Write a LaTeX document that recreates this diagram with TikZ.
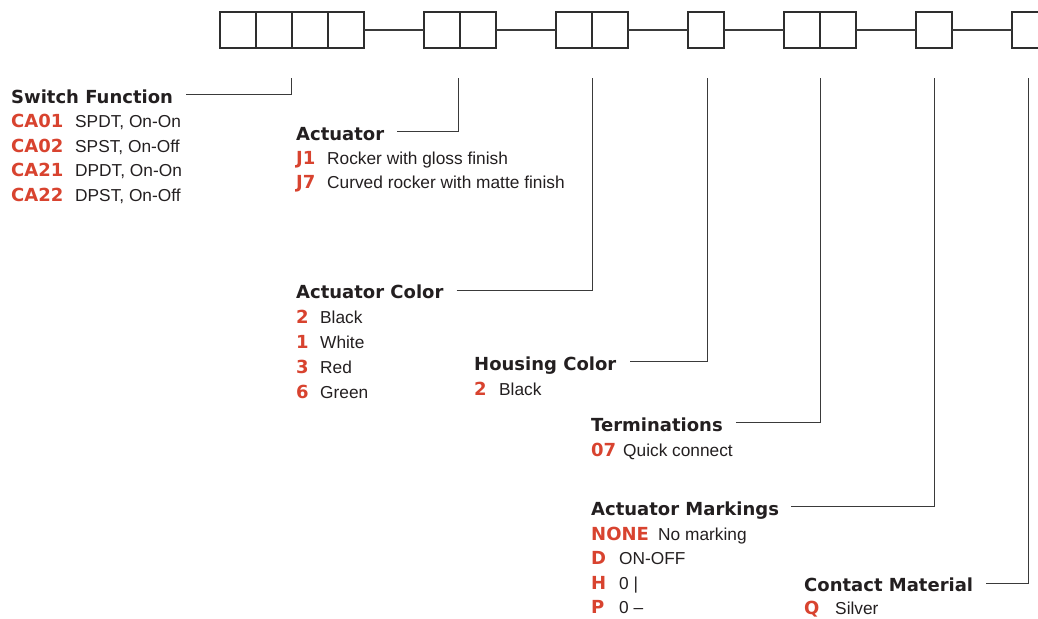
\documentclass[tikz,border=0pt]{standalone}
\usepackage{fontspec}
\setmainfont{Liberation Sans}
\newfontfamily\headfont{DejaVu Sans}
\definecolor{redc}{HTML}{D8432F}
\definecolor{txt}{HTML}{231F20}
\definecolor{boxc}{HTML}{2E2E2E}
\definecolor{linec}{HTML}{3A3A3A}
\begin{document}
\begin{tikzpicture}[x=1pt,y=-1pt,
 box/.style={draw=boxc, line width=1.3pt, minimum size=36pt, inner sep=0pt, outer sep=0pt, anchor=north west},
 head/.style={anchor=base west, inner sep=0pt, font=\headfont\bfseries\fontsize{18}{20}\selectfont, text=txt},
 code/.style={anchor=base west, inner sep=0pt, font=\headfont\bfseries\fontsize{18}{20}\selectfont, text=redc},
 desc/.style={anchor=base west, inner sep=0pt, font=\fontsize{17.3}{20}\selectfont, text=txt},
 leader/.style={draw=linec, line width=1pt},
 link/.style={draw=linec, line width=1.3pt}]
\useasboundingbox (0,0) rectangle (1038,618);
% boxes
\node[box] (b1) at (220,12) {};
\node[box] (b2) at (256,12) {};
\node[box] (b3) at (292,12) {};
\node[box] (b4) at (328,12) {};
\node[box] (b5) at (424,12) {};
\node[box] (b6) at (460,12) {};
\node[box] (b7) at (556,12) {};
\node[box] (b8) at (592,12) {};
\node[box] (b9) at (688,12) {};
\node[box] (b10) at (784,12) {};
\node[box] (b11) at (820,12) {};
\node[box] (b12) at (916,12) {};
\node[box] (b13) at (1012,12) {};
% links
\draw[link] (b4.east) -- (b5.west);
\draw[link] (b6.east) -- (b7.west);
\draw[link] (b8.east) -- (b9.west);
\draw[link] (b9.east) -- (b10.west);
\draw[link] (b11.east) -- (b12.west);
\draw[link] (b12.east) -- (b13.west);
% leader tops
\coordinate (l1) at ([xshift=-1pt,yshift=-30pt]b2.south east);
\coordinate (l2) at ([xshift=-2pt,yshift=-30pt]b5.south east);
\coordinate (l3) at ([yshift=-30pt]b7.south east);
\coordinate (l4) at ([xshift=1pt,yshift=-30pt]b9.south);
\coordinate (l5) at ([yshift=-30pt]b10.south east);
\coordinate (l6) at ([yshift=-30pt]b12.south);
\coordinate (l7) at ([xshift=-2pt,yshift=-30pt]b13.south);
% Switch Function
\node[head] (sf) at (11,103) {Switch Function};
\node[code] (sfc1) at (11,127.5) {CA01};
\node[desc] (sfd1) at (75,127.5) {SPDT, On-On};
\node[code] (sfc2) at (11,152) {CA02};
\node[desc] (sfd2) at (75,152) {SPST, On-Off};
\node[code] (sfc3) at (11,176.5) {CA21};
\node[desc] (sfd3) at (75,176.5) {DPDT, On-On};
\node[code] (sfc4) at (11,201) {CA22};
\node[desc] (sfd4) at (75,201) {DPST, On-Off};
% Actuator
\node[head] (act) at (296,140) {Actuator};
\node[code] (actc1) at (296,164) {J1};
\node[desc] (actd1) at (327,164) {Rocker with gloss finish};
\node[code] (actc2) at (296,188) {J7};
\node[desc] (actd2) at (327,188) {Curved rocker with matte finish};
% Actuator Color
\node[head] (acol) at (296,298.5) {Actuator Color};
\node[code] (acolc1) at (296,323.5) {2};
\node[desc] (acold1) at (320,323.5) {Black};
\node[code] (acolc2) at (296,348.5) {1};
\node[desc] (acold2) at (320,348.5) {White};
\node[code] (acolc3) at (296,373.5) {3};
\node[desc] (acold3) at (320,373.5) {Red};
\node[code] (acolc4) at (296,398.5) {6};
\node[desc] (acold4) at (320,398.5) {Green};
% Housing Color
\node[head] (hc) at (474,370) {Housing Color};
\node[code] (hcc1) at (474,395) {2};
\node[desc] (hcd1) at (499,395) {Black};
% Terminations
\node[head] (term) at (591,431) {Terminations};
\node[code] (termc1) at (591,456) {07};
\node[desc] (termd1) at (623,456) {Quick connect};
% Actuator Markings
\node[head] (am) at (591,515) {Actuator Markings};
\node[code] (amc1) at (591,540) {NONE};
\node[desc] (amd1) at (658,540) {No marking};
\node[code] (amc2) at (591,564.5) {D};
\node[desc] (amd2) at (619,564.5) {ON-OFF};
\node[code] (amc3) at (591,589) {H};
\node[desc] (amd3) at (619,589) {0 |};
\node[code] (amc4) at (591,613) {P};
\node[desc] (amd4) at (619,613) {0 –};
% Contact Material
\node[head] (cm) at (804,591) {Contact Material};
\node[code] (cmc1) at (804,614) {Q};
\node[desc] (cmd1) at (835,614) {Silver};
% leaders
\draw[leader] ([xshift=13pt,yshift=8.5pt]sf.base east) -| (l1);
\draw[leader] ([xshift=13pt,yshift=8.5pt]act.base east) -| (l2);
\draw[leader] ([xshift=13pt,yshift=8.5pt]acol.base east) -| (l3);
\draw[leader] ([xshift=14pt,yshift=8.5pt]hc.base east) -| (l4);
\draw[leader] ([xshift=13pt,yshift=8.5pt]term.base east) -| (l5);
\draw[leader] ([xshift=12pt,yshift=9pt]am.base east) -| (l6);
\draw[leader] ([xshift=13pt,yshift=8pt]cm.base east) -| (l7);
\end{tikzpicture}
\end{document}
